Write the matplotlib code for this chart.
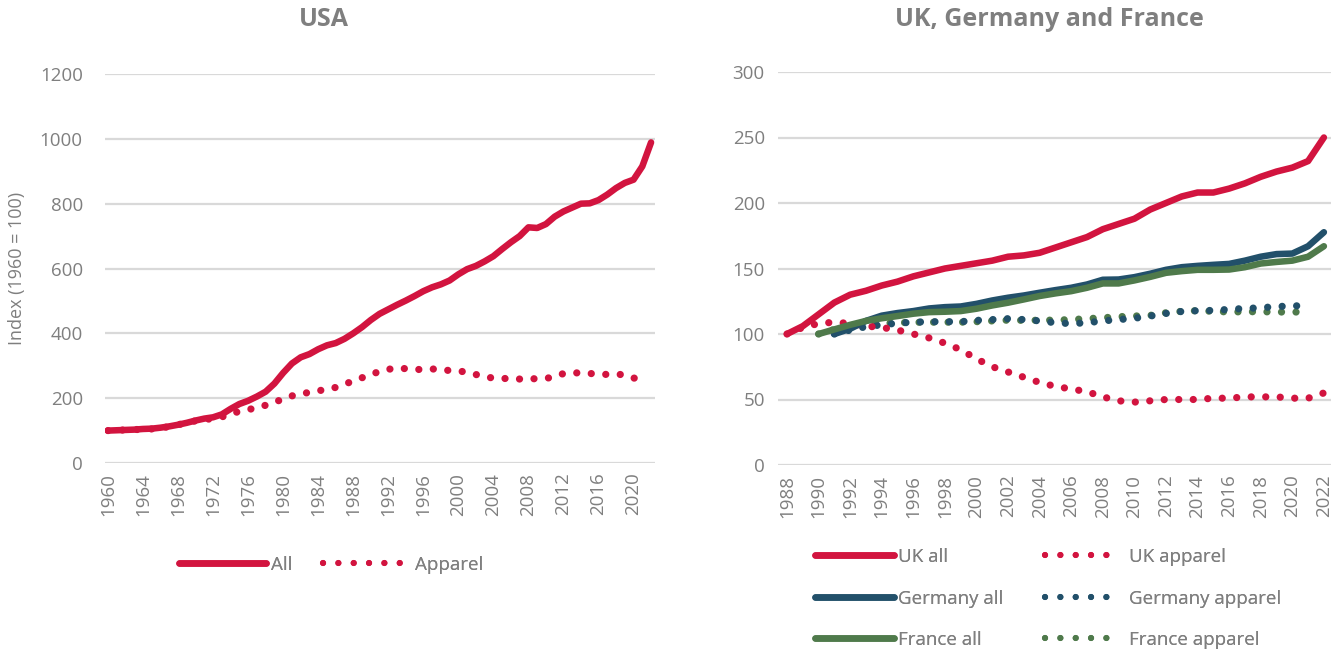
import matplotlib
matplotlib.use("Agg")
import matplotlib.pyplot as plt
from matplotlib.lines import Line2D

plt.rcParams['font.family'] = ['Open Sans', 'DejaVu Sans']

# ---------------- data ----------------
usa_years = list(range(1960, 2023))
usa_all = [100, 101, 102, 103, 105, 106, 109, 113, 118, 124,
           131, 137, 141, 150, 167, 182, 192, 205, 220, 245,
           278, 307, 326, 336, 351, 363, 370, 383, 400, 419,
           441, 460, 474, 488, 501, 515, 530, 542, 551, 563,
           582, 598, 608, 622, 638, 660, 681, 700, 727, 725,
           737, 760, 776, 788, 800, 801, 811, 828, 848, 864,
           874, 915, 989]
usa_app_years = list(range(1960, 2022))
usa_apparel = [100, 101, 102, 103, 104, 105, 108, 112, 118, 124,
               130, 134, 137, 142, 152, 159, 164, 172, 178, 186,
               199, 207, 213, 218, 222, 229, 233, 243, 253, 263,
               272, 283, 289, 293, 291, 289, 288, 290, 289, 285,
               284, 280, 273, 266, 262, 261, 260, 259, 258, 261,
               261, 266, 276, 278, 278, 276, 275, 273, 274, 272,
               262, 260]

uk_years = list(range(1988, 2023))
uk_all = [100, 106, 115, 124, 130, 133, 137, 140, 144, 147,
          150, 152, 154, 156, 159, 160, 162, 166, 170, 174,
          180, 184, 188, 195, 200, 205, 208, 208, 211, 215,
          220, 224, 227, 232, 250]
uk_apparel = [100, 105, 108, 109, 108, 106, 105, 103, 100, 97,
              93, 88, 81, 75, 71, 67, 63, 60, 58, 56,
              52, 49, 48, 49, 50, 50, 50, 51, 51, 52,
              52, 52, 51, 51, 55]

de_years = list(range(1991, 2023))
de_all = [100, 104, 110, 114, 116, 117.5, 119.5, 120.5, 121, 123,
          125.6, 127.7, 129.4, 131.5, 133.5, 135.3, 137.8, 141.4, 141.6, 143.4,
          146, 149, 151, 152, 152.8, 153.5, 156, 159, 161, 161.4,
          167, 177.7]
de_app_years = list(range(1991, 2022))
de_apparel = [100, 103, 105.6, 107, 108.3, 109, 109.4, 109.4, 109.4, 110.4,
              111, 111.7, 111, 110, 108.6, 107.9, 108.6, 110, 111, 112,
              113.7, 115.7, 117.2, 117.8, 118, 118.8, 119.5, 120, 121, 121.3,
              122]

fr_years = list(range(1990, 2023))
fr_all = [100, 103.5, 107, 110, 112, 113.7, 115.5, 116.7, 117, 117.5,
          119.3, 121.8, 123.9, 126.4, 129, 131, 132.7, 135.3, 138.6, 138.6,
          140.9, 143.6, 146.7, 148, 149, 149, 149.2, 151, 153.8, 155,
          156, 159, 167]
fr_app_years = list(range(1990, 2022))
fr_apparel = [100, 103.5, 106, 107.4, 108.2, 108.6, 108.9, 109, 109, 109,
              109.4, 110, 110.6, 110.4, 110.5, 110.6, 111, 111.7, 112.4, 113.2,
              113.7, 114.2, 116.2, 117.3, 117.8, 117.3, 116.8, 117, 117, 116.8,
              116.7, 117]

usa_xticks = list(range(1960, 2021, 4))
eu_xticks = list(range(1988, 2023, 2))

# ---------------- style ----------------
RED = '#D2143F'
BLUE = '#22506A'
GREEN = '#4F7A4B'
GRID = '#D9D9D9'
TXT = '#7F7F7F'
LW = 4.7
DLW = 5.2
DOT = (0, (0.01, 2.0))
FS = 13.5

fig = plt.figure(figsize=(13.43, 6.57), dpi=100)
W, H = 1343, 657

def axes_px(l, r, t, b):
    return fig.add_axes([l / W, 1 - b / H, (r - l) / W, (b - t) / H])

ax1 = axes_px(105, 655, 74, 463)
ax2 = axes_px(778, 1331, 72, 465)

def style(ax, ypad):
    for s in ax.spines.values():
        s.set_visible(False)
    ax.grid(axis='y', color=GRID, linewidth=1.6)
    ax.set_axisbelow(True)
    ax.tick_params(length=0, colors=TXT, labelsize=FS)
    ax.tick_params(axis='x', rotation=90, pad=7)
    ax.tick_params(axis='y', pad=ypad)

def solid(ax, x, y, c):
    ax.plot(x, y, color=c, lw=LW, solid_capstyle='round', solid_joinstyle='round')

def dotted(ax, x, y, c):
    ax.plot(x, y, color=c, lw=DLW, linestyle=DOT, dash_capstyle='round')

# USA
style(ax1, 16)
dotted(ax1, usa_app_years, usa_apparel, RED)
solid(ax1, usa_years, usa_all, RED)
ax1.set_xlim(1959.66, 2022.45)
ax1.set_ylim(0, 1200)
ax1.set_yticks(range(0, 1201, 200))
ax1.set_xticks(usa_xticks)
ax1.set_xticklabels([str(v) for v in usa_xticks])
ax1.set_ylabel('Index (1960 = 100)', color=TXT, fontsize=13, labelpad=10)

# UK, Germany, France
style(ax2, 9.5)
dotted(ax2, fr_app_years, fr_apparel, GREEN)
dotted(ax2, de_app_years, de_apparel, BLUE)
dotted(ax2, uk_years, uk_apparel, RED)
solid(ax2, de_years, de_all, BLUE)
solid(ax2, fr_years, fr_all, GREEN)
solid(ax2, uk_years, uk_all, RED)
ax2.set_xlim(1987.43, 2022.45)
ax2.set_ylim(0, 300)
ax2.set_yticks(range(0, 301, 50))
ax2.set_xticks(eu_xticks)
ax2.set_xticklabels([str(v) for v in eu_xticks])

# titles
fig.text(324 / W, 1 - 19 / H, 'USA', color=TXT, fontsize=18, fontweight='bold',
         ha='center', va='center')
fig.text(1049 / W, 1 - 19 / H, 'UK, Germany and France', color=TXT, fontsize=18,
         fontweight='bold', ha='center', va='center')

# legends (one entry each, positioned like the original)
def entry(handle, label, x0, xlen, yc, pad):
    leg = fig.legend([handle], [label], loc='center left',
                     bbox_to_anchor=(x0 / W, 1 - yc / H), frameon=False,
                     fontsize=FS, handlelength=xlen / (FS * 100 / 72),
                     handletextpad=pad / (FS * 100 / 72), borderpad=0,
                     borderaxespad=0, labelcolor=TXT)
    fig.add_artist(leg)

def h_solid(c):
    return Line2D([], [], color=c, lw=LW, solid_capstyle='round')

def h_dot(c):
    return Line2D([], [], color=c, lw=4.4, linestyle=(0, (0.01, 2.5)), dash_capstyle='round')

entry(h_solid(RED), 'All', 179, 87, 565, 5)
entry(h_dot(RED), 'Apparel', 323, 80, 565, 12)

rows = [557, 599, 640]
for c, lab, y in zip([RED, BLUE, GREEN], ['UK all', 'Germany all', 'France all'], rows):
    entry(h_solid(c), lab, 815, 79, y, 4)
for c, lab, y in zip([RED, BLUE, GREEN], ['UK apparel', 'Germany apparel', 'France apparel'], rows):
    entry(h_dot(c), lab, 1045, 70, y, 14)

fig.savefig('out.png', dpi=100)
